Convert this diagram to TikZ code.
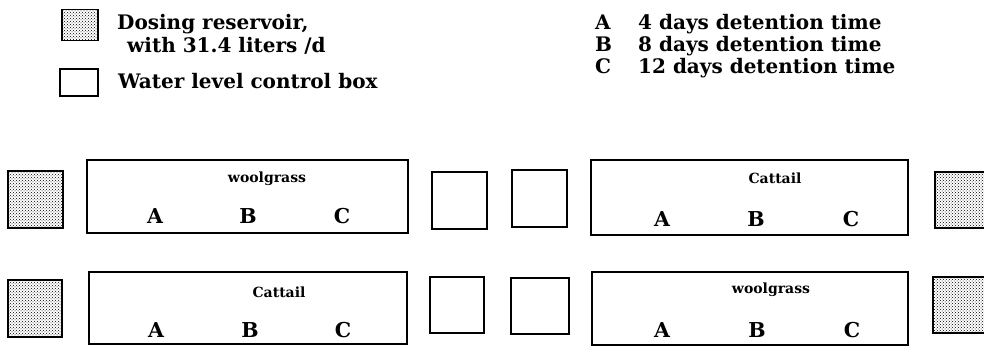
\documentclass[tikz,border=0pt]{standalone}
\usepackage{fontspec}
\setmainfont{DejaVu Serif}
\usetikzlibrary{patterns}
\begin{document}
\begin{tikzpicture}[x=1pt,y=-1pt,
	reservoir/.style={draw,line width=1.3pt,pattern=crosshatch dots,pattern color=black,inner sep=0pt},
	ctrlbox/.style={draw,line width=1.3pt,inner sep=0pt},
	basin/.style={draw,line width=1.3pt,inner sep=0pt},
	big/.style={font=\fontsize{20}{22}\selectfont\bfseries,inner sep=0pt},
	letter/.style={font=\fontsize{20.5}{22}\selectfont\bfseries,inner sep=0pt},
	plant/.style={font=\fontsize{14}{15}\selectfont\bfseries,inner sep=0pt}]
			\useasboundingbox (0,0) rectangle (984,347);
			\clip (0,0) rectangle (984,347);
			% legend
			\node [reservoir,minimum width=36pt,minimum height=31pt] (legres) at (80,25) {};
			\node [big,anchor=base west] (legrestxt) at (117,30) {Dosing reservoir,};
			\node [big,anchor=base west] (legrestxtb) at (127,53) {with 31.4 liters /d};
			\node [ctrlbox,minimum width=38pt,minimum height=27pt] (legbox) at (79,82.5) {};
			\node [big,anchor=base west] (legboxtxt) at (118,89) {Water level control box};
			\node [big,anchor=base west] (keyA) at (595,30) {A};
			\node [big,anchor=base west] (keyAtxt) at (638,30) {4 days detention time};
			\node [big,anchor=base west] (keyB) at (595,52) {B};
			\node [big,anchor=base west] (keyBtxt) at (638,52) {8 days detention time};
			\node [big,anchor=base west] (keyC) at (595,74) {C};
			\node [big,anchor=base west] (keyCtxt) at (638,74) {12 days detention time};
			% upper row
			\node [reservoir,minimum width=55pt,minimum height=57pt] (resA) at (35.5,199.5) {};
			\node [basin,minimum width=321pt,minimum height=73pt] (basinA) at (247.5,196.5) {};
			\draw (267,179) node [plant] (plantA) {woolgrass};
			\draw (155,216) node [letter] (basinAa) {A};
			\draw (248,216) node [letter] (basinAb) {B};
			\draw (342,216) node [letter] (basinAc) {C};
			\node [ctrlbox,minimum width=55pt,minimum height=57pt] (boxA) at (459.5,200.5) {};
			\node [ctrlbox,minimum width=55pt,minimum height=57pt] (boxB) at (539.5,198.5) {};
			\node [basin,minimum width=317pt,minimum height=75pt] (basinB) at (749.5,197.5) {};
			\draw (775,178) node [plant] (plantB) {Cattail};
			\draw (662,219) node [letter] (basinBa) {A};
			\draw (756,219) node [letter] (basinBb) {B};
			\draw (851,219) node [letter] (basinBc) {C};
			\node [reservoir,minimum width=55pt,minimum height=56pt] (resB) at (962.5,200) {};
			% lower row
			\node [reservoir,minimum width=54pt,minimum height=57pt] (resC) at (35,308.5) {};
			\node [basin,minimum width=318pt,minimum height=72pt] (basinC) at (248,308) {};
			\draw (279,292) node [plant] (plantC) {Cattail};
			\draw (156,330) node [letter] (basinCa) {A};
			\draw (250,330) node [letter] (basinCb) {B};
			\draw (343,330) node [letter] (basinCc) {C};
			\node [ctrlbox,minimum width=54pt,minimum height=56pt] (boxC) at (457,305) {};
			\node [ctrlbox,minimum width=58pt,minimum height=56pt] (boxD) at (540,306) {};
			\node [basin,minimum width=316pt,minimum height=73pt] (basinD) at (750,308.5) {};
			\draw (771,290) node [plant] (plantD) {woolgrass};
			\draw (662,330) node [letter] (basinDa) {A};
			\draw (757,330) node [letter] (basinDb) {B};
			\draw (852,330) node [letter] (basinDc) {C};
			\node [reservoir,minimum width=55pt,minimum height=56pt] (resD) at (960.5,305) {};
		\end{tikzpicture}
\end{document}
